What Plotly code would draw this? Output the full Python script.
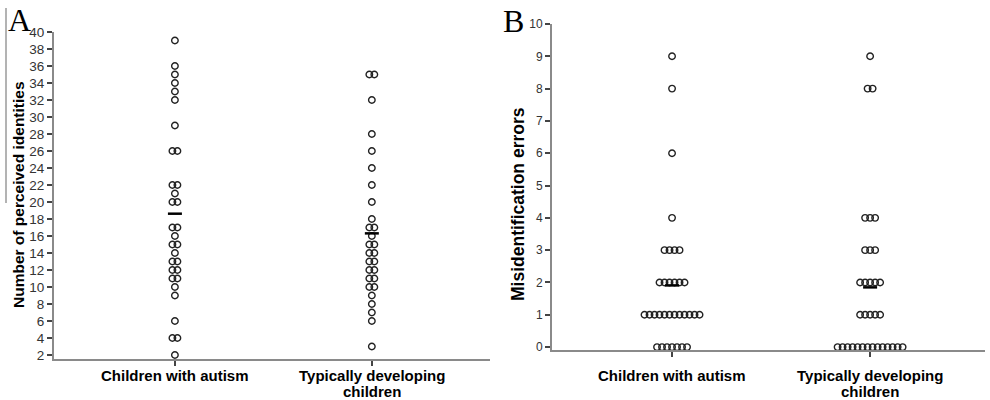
import plotly.graph_objects as go
import numpy as np

# ---------------- data ----------------
categories = [["Children with autism"], ["Typically developing", "children"]]

# Panel A: number of perceived identities
identities_autism = [39, 36, 35, 34, 33, 32, 29, 26, 26, 22, 22, 21, 20, 20,
                     17, 17, 16, 15, 15, 14, 13, 13, 12, 12, 11, 11, 10, 9,
                     6, 4, 4, 2]
identities_typical = [35, 35, 32, 28, 26, 24, 22, 20, 18, 17, 17, 16, 15, 15,
                      14, 14, 13, 13, 12, 12, 11, 11, 10, 10, 9, 8, 7, 6, 3]

# Panel B: misidentification errors
errors_autism = [9, 8, 6, 4, 3, 3, 3, 3, 2, 2, 2, 2, 2, 2,
                 1, 1, 1, 1, 1, 1, 1, 1, 1, 1, 1, 1,
                 0, 0, 0, 0, 0, 0, 0]
errors_typical = [9, 8, 8, 4, 4, 4, 3, 3, 3, 2, 2, 2, 2, 2,
                  1, 1, 1, 1, 1,
                  0, 0, 0, 0, 0, 0, 0, 0, 0, 0, 0, 0, 0, 0]

ticks_A = list(range(2, 41, 2))
ticks_B = list(range(0, 11))

# ---------------- helpers ----------------
def swarm(values, center, spacing):
    xs, ys = [], []
    vals = np.array(values)
    for v in sorted(set(values), reverse=True):
        n = int((vals == v).sum())
        for k in range(n):
            xs.append(center + (k - (n - 1) / 2) * spacing)
            ys.append(v)
    return xs, ys

PX_A = 197.0   # pixels per x unit in panel A
PX_B = 198.0
SP = 5.0       # pixel spacing between neighbouring dots

fig = go.Figure()

marker = dict(symbol="circle-open", size=6.5, color="#222222",
              line=dict(width=1.4, color="#222222"))

def add_panel(groups, xa, ya, pxu):
    for i, vals in enumerate(groups):
        xs, ys = swarm(vals, i, SP / pxu)
        fig.add_trace(go.Scatter(x=xs, y=ys, mode="markers", marker=marker,
                                 xaxis=xa, yaxis=ya, showlegend=False,
                                 cliponaxis=False, hoverinfo="y"))
        m = float(np.mean(vals))
        half = 7.0 / pxu
        fig.add_trace(go.Scatter(x=[i - half, i + half], y=[m, m], mode="lines",
                                 line=dict(color="black", width=2.5),
                                 xaxis=xa, yaxis=ya, showlegend=False,
                                 cliponaxis=False, hoverinfo="skip"))

add_panel([identities_autism, identities_typical], "x", "y", PX_A)
add_panel([errors_autism, errors_typical], "x2", "y2", PX_B)

def axis_style(fs):
    return dict(showgrid=False, zeroline=False, showline=True,
                linecolor="#8a8a8a", linewidth=2, ticks="outside",
                ticklen=5, tickwidth=1.5, tickcolor="#444444",
                tickfont=dict(family="Liberation Sans, Arial, sans-serif",
                              size=fs, color="#333333"),
                fixedrange=True, automargin=False)

fig.update_layout(
    width=990, height=400,
    margin=dict(l=0, r=0, t=0, b=0, pad=0, autoexpand=False),
    paper_bgcolor="white", plot_bgcolor="white",
    xaxis=dict(domain=[54 / 990, 490 / 990], range=[-0.614, 1.6],
               tickvals=[0, 1], showticklabels=False, anchor="y", **axis_style(13.5)),
    yaxis=dict(domain=[1 - 359 / 400, 1 - 32 / 400], range=[1.53, 40],
               tickvals=ticks_A, anchor="x", **axis_style(13.5)),
    xaxis2=dict(domain=[552 / 990, 985 / 990], range=[-0.606, 1.58],
                tickvals=[0, 1], showticklabels=False, anchor="y2", **axis_style(12)),
    yaxis2=dict(domain=[1 - 350 / 400, 1 - 24 / 400], range=[-0.09, 10],
                tickvals=ticks_B, anchor="x2", **axis_style(12)),
)

bold = dict(family="Liberation Sans, Arial, sans-serif", size=15, color="black")
ann = []
for xa in ["x", "x2"]:
    for i, lines in enumerate(categories):
        for j, line in enumerate(lines):
            ann.append(dict(x=i, xref=xa, y=1 - (375 + 16 * j) / 400, yref="paper",
                            text="<b>" + line + "</b>", showarrow=False,
                            xanchor="center", yanchor="middle", font=bold))
ann.append(dict(x=18 / 990, y=1 - 195 / 400, xref="paper", yref="paper",
                text="<b>Number of perceived identities</b>", textangle=-90,
                showarrow=False, xanchor="center", yanchor="middle",
                font=dict(family="Liberation Sans, Arial, sans-serif", size=15.5,
                          color="black")))
ann.append(dict(x=518 / 990, y=1 - 204 / 400, xref="paper", yref="paper",
                text="<b>Misidentification errors</b>", textangle=-90,
                showarrow=False, xanchor="center", yanchor="middle",
                font=dict(family="Liberation Sans, Arial, sans-serif", size=17.5,
                          color="black")))
serif = dict(family="Liberation Serif, Times New Roman, serif", size=32, color="black")
ann.append(dict(x=6 / 990, y=1 - 0 / 400, xref="paper", yref="paper", text="A",
                showarrow=False, xanchor="left", yanchor="top", font=serif))
ann.append(dict(x=501 / 990, y=1 - 1 / 400, xref="paper", yref="paper", text="B",
                showarrow=False, xanchor="left", yanchor="top", font=serif))
fig.update_layout(annotations=ann)

fig.add_shape(type="line", xref="paper", yref="paper",
              x0=6 / 990, x1=6 / 990, y0=1 - 8 / 400, y1=1 - 203 / 400,
              line=dict(color="#9a9a9a", width=1.5))

fig.write_html("out.html", config={"displayModeBar": False},
               post_script="document.body.style.margin='0';document.body.style.overflow='hidden';")
